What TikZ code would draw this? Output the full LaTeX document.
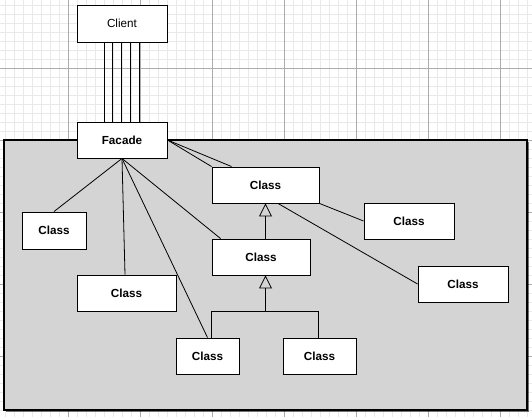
\documentclass[tikz,border=0pt]{standalone}
\usepackage{fontspec}
\setmainfont{Liberation Sans}
\usetikzlibrary{arrows.meta,calc,shadows}
\definecolor{panelgray}{HTML}{D4D4D4}
\definecolor{minorgrid}{HTML}{E9E9E9}
\definecolor{majorgrid}{HTML}{ACACAC}
\tikzset{
  box/.style={draw=black, line width=0.9pt, fill=white, inner sep=0pt,
    font=\fontsize{11.7}{14}\selectfont\bfseries,
    drop shadow={shadow xshift=1.2pt, shadow yshift=-1.2pt, opacity=0.35, fill=black}},
  plainbox/.style={box, font=\fontsize{11.7}{14}\selectfont},
  link/.style={draw=black, line width=0.8pt},
  inh/.style={link, -{Triangle[open, length=13pt, width=13pt, line width=0.8pt]}},
  panel/.style={draw=black, line width=1.1pt, fill=panelgray,
    drop shadow={shadow xshift=2pt, shadow yshift=-2pt, opacity=0.55, fill=black}},
}
\begin{document}
\begin{tikzpicture}[x=1pt,y=-1pt]
\useasboundingbox (0,0) rectangle (532,417);
\fill[white] (0,0) rectangle (532,417);
% grid
\foreach \k in {0,...,60} {
  \draw[minorgrid, line width=0.5pt] ({-4+9*\k},0) -- ({-4+9*\k},417);
  \draw[minorgrid, line width=0.5pt] (0,{-4+9*\k}) -- (532,{-4+9*\k});
}
\foreach \k in {0,...,8} {
  \draw[majorgrid, line width=0.6pt] ({-4+72*\k},0) -- ({-4+72*\k},417);
  \draw[majorgrid, line width=0.6pt] (0,{-4+72*\k}) -- (532,{-4+72*\k});
}
% panel
\draw[panel] (4,140) rectangle (527,410);
% nodes
\node[plainbox, minimum width=90pt, minimum height=37pt] (client) at (122,23.5) {Client};
\node[box, minimum width=90pt, minimum height=36pt] (facade) at (122,140) {Facade};
\node[box, minimum width=107pt, minimum height=36pt] (A) at (265.5,185) {Class};
\node[box, minimum width=64pt, minimum height=37pt] (B) at (54,230.5) {Class};
\node[box, minimum width=99pt, minimum height=36pt] (C) at (126.5,293) {Class};
\node[box, minimum width=63pt, minimum height=36pt] (D) at (207.5,356) {Class};
\node[box, minimum width=98pt, minimum height=36pt] (M) at (261,257) {Class};
\node[box, minimum width=90pt, minimum height=36pt] (E) at (409,221) {Class};
\node[box, minimum width=90pt, minimum height=36pt] (F) at (463,284) {Class};
\node[box, minimum width=73pt, minimum height=36pt] (G) at (319.5,356) {Class};
% client - facade
\foreach \dx in {-18,-9.5,-1,8,17} {
  \draw[link] ($(client.south)+(\dx,0)$) -- ($(facade.north)+(\dx,0)$);
}
% facade associations
\draw[link] (facade.south) -- (B.north);
\draw[link] (facade.south) -- ($(C.north)+(-1.5,0)$);
\draw[link] (facade.south) -- (D.north);
\draw[link] (facade.south) -- ($(M.north west)+(9,0)$);
\draw[link] (facade.east) -- (A.north west);
\draw[link] (facade.east) -- ($(A.north west)+(20,0)$);
% A associations
\draw[link] (A.south east) -- (E.west);
\draw[link] ($(A.south)+(12.5,0)$) -- (F.west);
% inheritance
\coordinate (top1) at (A.south);
\coordinate (bot1) at (A.south |- M.north);
\draw[inh] (bot1) -- (top1);
\coordinate (top2) at (A.south |- M.south);
\coordinate (bar) at ($(top2)+(0,36)$);
\draw[inh] (bar) -- (top2);
\draw[link] ($(D.north)+(3.5,0)$) |- (bar) -| ($(G.north)+(-1.5,0)$);
\end{tikzpicture}
\end{document}
